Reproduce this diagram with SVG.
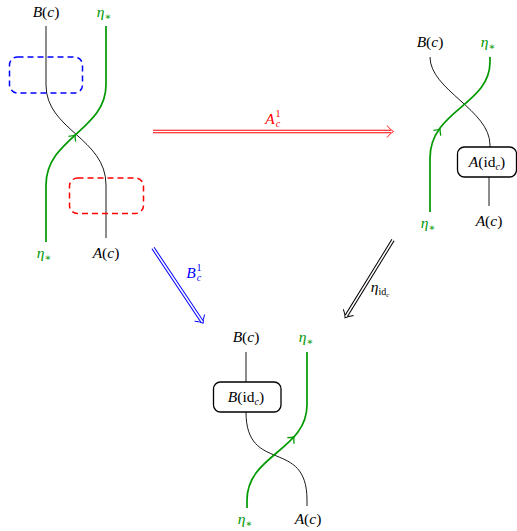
<svg xmlns="http://www.w3.org/2000/svg" width="517" height="531" viewBox="0 0 517 531">
<style>
text{font-family:"Liberation Serif","DejaVu Serif",serif;font-size:15.5px;text-anchor:middle}
.it{font-style:italic}
.up{font-style:normal}
.g{fill:#009900}
.wb{fill:none;stroke:#000;stroke-width:0.9}
.wg{fill:none;stroke:#009900;stroke-width:1.7}
.box{fill:#fff;stroke:#000;stroke-width:1.3}
.dash{fill:none;stroke-width:1.5;stroke-dasharray:6,4}
.chg{fill:none;stroke:#009900;stroke-width:1.3}
.sm{font-size:10px}
</style>
<defs>
<path id="chev" d="M-5,-4.5 Q-1.5,-1 0,0 Q-1.5,1 -5,4.5"/>
</defs>
<g id="left">
<path class="wb" d="M46,26 V85 C46,130 106,138 106,185 V238"/>
<path class="wg" d="M106,26 V85 C106,130 46,138 46,185 V242"/>
<use href="#chev" class="chg" transform="translate(75,135) rotate(-54)"/>
<rect class="dash" x="9.5" y="57" width="73" height="36" rx="8" stroke="#0000ff"/>
<rect class="dash" x="69.5" y="178" width="74" height="35.5" rx="8" stroke="#ff0000"/>
<text class="it" x="46" y="17">B<tspan class="up">(</tspan>c<tspan class="up">)</tspan></text>
<text class="it g" x="104" y="17">η<tspan class="sm up" dy="3">∗</tspan></text>
<text class="it g" x="44" y="258">η<tspan class="sm up" dy="3">∗</tspan></text>
<text class="it" x="106" y="258">A<tspan class="up">(</tspan>c<tspan class="up">)</tspan></text>
</g>
<g id="right">
<path class="wb" d="M430,57 C430,90 490,110 490,145 V147 M489,177 V206"/>
<path class="wg" d="M490,57 V62 C490,105 430,110 430,158 V212"/>
<use href="#chev" class="chg" transform="translate(440,129) rotate(-54.5)"/>
<rect class="box" x="457.5" y="147" width="59" height="30" rx="7"/>
<text class="it" x="487" y="167">A<tspan class="up">(id</tspan><tspan class="sm" dy="3">c</tspan><tspan class="up" dy="-3">)</tspan></text>
<text class="it" x="430" y="47">B<tspan class="up">(</tspan>c<tspan class="up">)</tspan></text>
<text class="it g" x="488" y="47">η<tspan class="sm up" dy="3">∗</tspan></text>
<text class="it g" x="428" y="228">η<tspan class="sm up" dy="3">∗</tspan></text>
<text class="it" x="489" y="226">A<tspan class="up">(</tspan>c<tspan class="up">)</tspan></text>
</g>
<g id="bottom">
<path class="wb" d="M246,352 V382 M246,412 C246,475 307,437 307,500 V506"/>
<path class="wg" d="M307,352 V405 C307,450 247,455 247,500 V508"/>
<use href="#chev" class="chg" transform="translate(294,437) rotate(-48)"/>
<rect class="box" x="213.5" y="382" width="67.5" height="30" rx="7"/>
<text class="it" x="246" y="402">B<tspan class="up">(id</tspan><tspan class="sm" dy="3">c</tspan><tspan class="up" dy="-3">)</tspan></text>
<text class="it" x="246" y="342">B<tspan class="up">(</tspan>c<tspan class="up">)</tspan></text>
<text class="it g" x="306" y="342">η<tspan class="sm up" dy="3">∗</tspan></text>
<text class="it g" x="245" y="524">η<tspan class="sm up" dy="3">∗</tspan></text>
<text class="it" x="308" y="524">A<tspan class="up">(</tspan>c<tspan class="up">)</tspan></text>
</g>
<g id="connectors">
<g transform="translate(153,131.5)">
<path d="M0,0 H238" stroke="#ff0000" stroke-width="3.6" fill="none"/>
<path d="M-1,0 H239" stroke="#fff" stroke-width="1.6" fill="none"/>
<path d="M234,-6 Q237.5,-1.5 240.5,0 Q237.5,1.5 234,6" stroke="#ff0000" stroke-width="0.9" fill="none"/>
</g>
<g transform="translate(153,248) rotate(56.3)">
<path d="M0,0 H88" stroke="#0000ff" stroke-width="3.6" fill="none"/>
<path d="M-1,0 H89" stroke="#fff" stroke-width="1.6" fill="none"/>
<path d="M84,-6 Q87.5,-1.5 90.5,0 Q87.5,1.5 84,6" stroke="#0000ff" stroke-width="0.9" fill="none"/>
</g>
<g transform="translate(393,240) rotate(121.6)">
<path d="M0,0 H89" stroke="#000" stroke-width="3.6" fill="none"/>
<path d="M-1,0 H90" stroke="#fff" stroke-width="1.6" fill="none"/>
<path d="M85,-6 Q88.5,-1.5 91.5,0 Q88.5,1.5 85,6" stroke="#000" stroke-width="0.9" fill="none"/>
</g>
<text class="it" x="270" y="124" fill="#ff0000">A<tspan class="sm up" x="278" y="117">1</tspan><tspan class="sm" x="278" y="127">c</tspan></text>
<text class="it" x="191" y="278" fill="#0000ff">B<tspan class="sm up" x="199" y="271">1</tspan><tspan class="sm" x="199" y="281">c</tspan></text>
<text class="it" x="380" y="292">η<tspan class="sm up" dy="3">id</tspan><tspan font-size="7px" dy="2">c</tspan></text>
</g>
</svg>
